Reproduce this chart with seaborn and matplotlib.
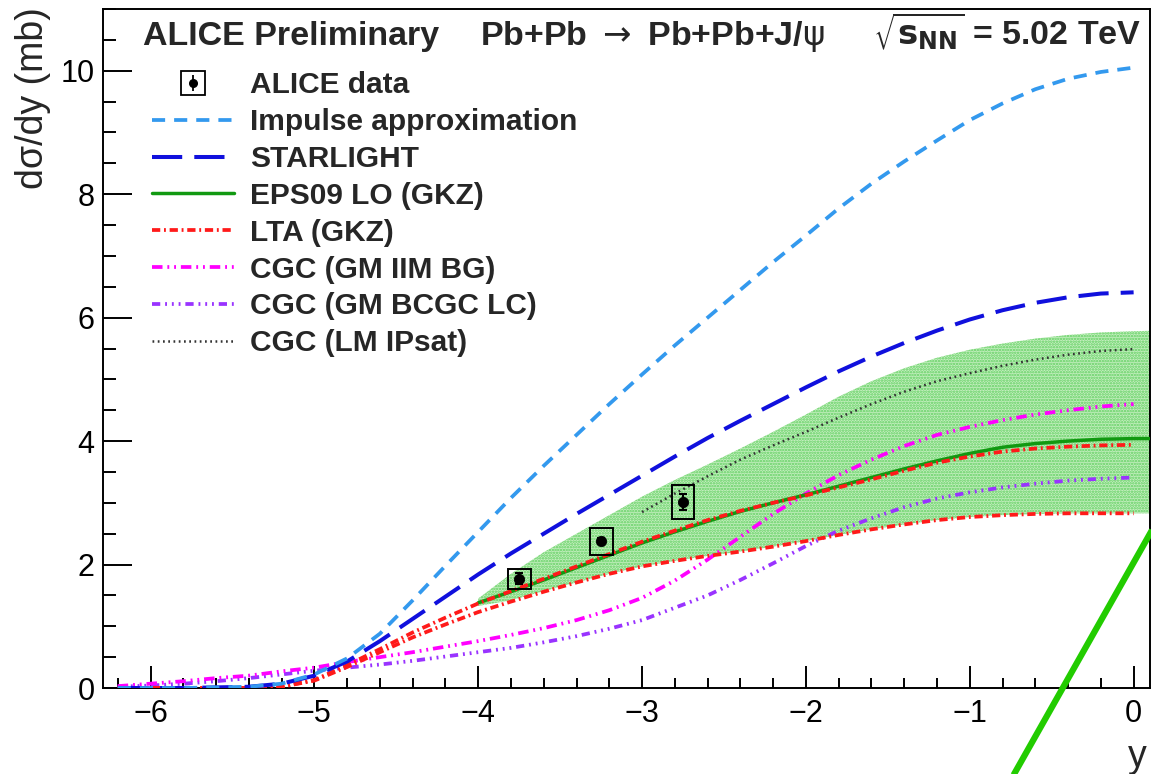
import numpy as np
import pandas as pd
import matplotlib
matplotlib.use("Agg")
import matplotlib.pyplot as plt
from matplotlib.lines import Line2D
from matplotlib.patches import Rectangle
from matplotlib.legend_handler import HandlerTuple
import seaborn as sns

# ---------------------------------------------------------------- data
# rapidity grid of the model calculations
y_grid = [-6.2, -6.0, -5.8, -5.6, -5.4, -5.2, -5.0, -4.8, -4.6, -4.4, -4.2,
          -4.0, -3.8, -3.6, -3.4, -3.2, -3.0, -2.8, -2.6, -2.4, -2.2,
          -2.0, -1.8, -1.6, -1.4, -1.2, -1.0, -0.8, -0.6, -0.4, -0.2, 0.0]

impulse = [0.0, 0.0, 0.0, 0.01, 0.02, 0.07, 0.22, 0.48, 0.88, 1.42, 1.98,
           2.53, 3.08, 3.60, 4.10, 4.60, 5.08, 5.55, 6.00, 6.45, 6.90,
           7.33, 7.77, 8.17, 8.53, 8.87, 9.20, 9.47, 9.70, 9.87, 9.98, 10.05]

starlight = [0.0, 0.0, 0.0, 0.01, 0.02, 0.07, 0.20, 0.43, 0.76, 1.12, 1.48,
             1.84, 2.18, 2.50, 2.82, 3.13, 3.44, 3.75, 4.05, 4.33, 4.60,
             4.87, 5.13, 5.37, 5.59, 5.79, 5.97, 6.12, 6.24, 6.33, 6.39, 6.41]

lta_high = [0.0, 0.0, 0.0, 0.0, 0.0, 0.02, 0.13, 0.37, 0.63, 0.90, 1.14,
            1.37, 1.57, 1.77, 1.97, 2.17, 2.37, 2.55, 2.72, 2.87, 3.00,
            3.12, 3.25, 3.38, 3.52, 3.65, 3.75, 3.83, 3.88, 3.91, 3.93, 3.94]

lta_low = [0.0, 0.0, 0.0, 0.0, 0.0, 0.02, 0.12, 0.34, 0.58, 0.82, 1.03,
           1.23, 1.40, 1.56, 1.71, 1.85, 1.97, 2.06, 2.14, 2.21, 2.29,
           2.38, 2.48, 2.57, 2.65, 2.72, 2.77, 2.80, 2.82, 2.83, 2.83, 2.83]

cgc_iim = [0.03, 0.07, 0.11, 0.16, 0.20, 0.27, 0.33, 0.42, 0.50, 0.58, 0.67,
           0.76, 0.86, 0.97, 1.10, 1.26, 1.46, 1.74, 2.08, 2.45, 2.82,
           3.15, 3.45, 3.70, 3.92, 4.10, 4.23, 4.34, 4.43, 4.50, 4.56, 4.60]

cgc_bcgc = [0.02, 0.04, 0.07, 0.11, 0.16, 0.22, 0.28, 0.33, 0.38, 0.44, 0.51,
            0.58, 0.65, 0.74, 0.84, 0.96, 1.10, 1.30, 1.50, 1.75, 2.02,
            2.30, 2.55, 2.75, 2.93, 3.07, 3.17, 3.25, 3.31, 3.36, 3.39, 3.41]

# EPS09 LO central value and uncertainty band
eps_y = [-4.0, -3.8, -3.6, -3.4, -3.2, -3.0, -2.8, -2.6, -2.4, -2.2, -2.0,
         -1.8, -1.6, -1.4, -1.2, -1.0, -0.8, -0.6, -0.4, -0.2, 0.0, 0.15]
eps_central = [1.38, 1.56, 1.75, 1.95, 2.15, 2.35, 2.53, 2.70, 2.86, 3.00, 3.13,
               3.27, 3.41, 3.55, 3.68, 3.80, 3.90, 3.96, 4.00, 4.03, 4.04, 4.04]
eps_high = [1.45, 1.85, 2.20, 2.50, 2.80, 3.10, 3.37, 3.62, 3.88, 4.15, 4.43,
            4.72, 4.97, 5.18, 5.35, 5.48, 5.58, 5.66, 5.72, 5.76, 5.78, 5.79]
eps_low = [1.33, 1.42, 1.57, 1.71, 1.85, 1.97, 2.06, 2.14, 2.21, 2.29, 2.38,
           2.48, 2.57, 2.65, 2.72, 2.77, 2.80, 2.82, 2.83, 2.83, 2.83, 2.83]

# CGC (LM IPsat)
ipsat_y = [-3.0, -2.8, -2.6, -2.4, -2.2, -2.0, -1.8, -1.6, -1.4, -1.2,
           -1.0, -0.8, -0.6, -0.4, -0.2, 0.0]
ipsat = [2.85, 3.15, 3.43, 3.70, 3.93, 4.15, 4.38, 4.60, 4.80, 4.97,
         5.10, 5.22, 5.32, 5.40, 5.46, 5.49]

# ALICE measurement
data_y = [-3.75, -3.25, -2.75]
data_val = [1.77, 2.38, 3.01]
data_stat = [0.09, 0.05, 0.13]
data_syst = [0.16, 0.22, 0.28]

# ---------------------------------------------------------------- style
sns.set_style("white")
plt.rcParams["font.family"] = ["Liberation Sans", "DejaVu Sans"]
plt.rcParams["mathtext.fontset"] = "dejavusans"
plt.rcParams["hatch.linewidth"] = 1.2
plt.rcParams["axes.unicode_minus"] = True

fig = plt.figure(figsize=(11.51, 7.74), dpi=100)
ax = fig.add_axes([103 / 1151, 86 / 774, 1047 / 1151, 679 / 774])

# uncertainty band of EPS09
ax.fill_between(eps_y, eps_low, eps_high, facecolor="#c4efbf",
                edgecolor="#5fcf5f", hatch="......", linewidth=0, zorder=1)

curves = pd.DataFrame({
    "y": y_grid,
    "Impulse approximation": impulse,
    "STARLIGHT": starlight,
    "LTA high": lta_high,
    "LTA low": lta_low,
    "CGC (GM IIM BG)": cgc_iim,
    "CGC (GM BCGC LC)": cgc_bcgc,
})

styles = {
    "Impulse approximation": dict(color="#3399ee", lw=2.7, ls=(0, (3.5, 2.4))),
    "STARLIGHT": dict(color="#1010dd", lw=2.9, ls=(0, (7.5, 3.0))),
    "LTA (GKZ)": dict(color="#ff1a1a", lw=2.7, ls=(0, (2.2, 1.0, 0.5, 1.0))),
    "CGC (GM IIM BG)": dict(color="#ff00ff", lw=2.7,
                            ls=(0, (2.8, 1.3, 0.5, 1.3, 0.5, 1.3))),
    "CGC (GM BCGC LC)": dict(color="#9933ff", lw=2.7,
                             ls=(0, (2.2, 1.3, 0.5, 1.3, 0.5, 1.3, 0.5, 1.3))),
    "EPS09 LO (GKZ)": dict(color="#119911", lw=2.5, ls="-"),
    "CGC (LM IPsat)": dict(color="#333333", lw=1.8, ls=(0, (0.7, 1.4))),
}

def draw(x, y, key, z=3):
    st = styles[key]
    sns.lineplot(x=x, y=y, ax=ax, color=st["color"], linewidth=st["lw"],
                 linestyle=st["ls"], legend=False, sort=False,
                 estimator=None, zorder=z)

draw(curves["y"], curves["CGC (GM BCGC LC)"], "CGC (GM BCGC LC)")
draw(curves["y"], curves["CGC (GM IIM BG)"], "CGC (GM IIM BG)")
draw(ipsat_y, ipsat, "CGC (LM IPsat)")
draw(curves["y"], curves["LTA low"], "LTA (GKZ)")
draw(eps_y, eps_central, "EPS09 LO (GKZ)")
draw(curves["y"], curves["LTA high"], "LTA (GKZ)")
draw(curves["y"], curves["STARLIGHT"], "STARLIGHT")
draw(curves["y"], curves["Impulse approximation"], "Impulse approximation")

# measured points: systematic boxes, statistical bars, markers
box_half_width = 0.07
for yy, v, s in zip(data_y, data_val, data_syst):
    ax.add_patch(Rectangle((yy - box_half_width, v - s), 2 * box_half_width,
                           2 * s, fill=False, edgecolor="black", lw=1.4,
                           zorder=6))
ax.errorbar(data_y, data_val, yerr=data_stat, fmt="none", ecolor="black",
            elinewidth=1.5, capsize=3, capthick=1.5, zorder=7)
sns.scatterplot(x=data_y, y=data_val, color="black", s=55, edgecolor="black",
                ax=ax, zorder=8, legend=False)

# ---------------------------------------------------------------- axes
ax.set_xlim(-6.29, 0.1)
ax.set_ylim(0, 11)
ax.set_xticks([-6, -5, -4, -3, -2, -1, 0])
ax.set_xticks(np.arange(-6.2, 0.05, 0.2), minor=True)
ax.set_yticks([0, 2, 4, 6, 8, 10])
ax.set_yticks(np.arange(0, 11.01, 0.5), minor=True)
ax.tick_params(axis="both", which="both", direction="in", width=1.4,
               labelsize=22, colors="black", bottom=True, left=True,
               top=False, right=False)
ax.tick_params(axis="x", which="major", length=15.5, pad=8)
ax.tick_params(axis="x", which="minor", length=7.5)
ax.tick_params(axis="y", which="major", length=21, pad=6)
ax.tick_params(axis="y", which="minor", length=9.5)
for sp in ax.spines.values():
    sp.set_linewidth(1.4)
    sp.set_color("black")

ax.set_ylabel("dσ/dy (mb)", fontsize=27, loc="top")
ax.yaxis.set_label_coords(-0.050, 1.003)
ax.set_xlabel("y", fontsize=27, loc="right")
ax.xaxis.set_label_coords(0.997, -0.075)

# header
head = dict(transform=ax.transAxes, fontsize=24.5, weight="bold",
            va="baseline")
ax.text(0.038, 0.947, "ALICE Preliminary", ha="left", **head)
ax.text(0.360, 0.947, r"Pb+Pb $\rightarrow$ Pb+Pb+J/$\mathrm{\psi}$",
        ha="left", **head)
ax.text(0.9914, 0.947, r"$\sqrt{\mathbf{s}_{\mathbf{NN}}}$ = 5.02 TeV",
        ha="right", **head)

# legend
def proxy(key):
    st = styles[key]
    return Line2D([], [], color=st["color"], lw=st["lw"], ls=st["ls"])

data_handle = (Line2D([], [], marker="s", ms=17, mfc="none", mec="black",
                      mew=1.3, ls=""),
               Line2D([], [], marker="|", ms=11, mew=1.3, color="black",
                      ls=""),
               Line2D([], [], marker="o", ms=5.5, color="black", ls=""))
handles = [data_handle, proxy("Impulse approximation"), proxy("STARLIGHT"),
           proxy("EPS09 LO (GKZ)"), proxy("LTA (GKZ)"),
           proxy("CGC (GM IIM BG)"), proxy("CGC (GM BCGC LC)"),
           proxy("CGC (LM IPsat)")]
labels = ["ALICE data", "Impulse approximation", "STARLIGHT",
          "EPS09 LO (GKZ)", "LTA (GKZ)", "CGC (GM IIM BG)",
          "CGC (GM BCGC LC)", "CGC (LM IPsat)"]
ax.legend(handles, labels, loc="upper left", bbox_to_anchor=(0.0468, 0.9080),
          frameon=False, borderpad=0, borderaxespad=0, handlelength=2.74,
          handletextpad=0.54, labelspacing=0.295,
          prop={"size": 21.5, "weight": "bold"},
          handler_map={tuple: HandlerTuple(ndivide=1)})

# green stroke across the lower right corner
fig.add_artist(Line2D([0.875, 1.005], [-0.016, 0.326],
                      transform=fig.transFigure, color="#22cc00", lw=4.5,
                      solid_capstyle="butt", zorder=20))

fig.savefig("out.png", dpi=100)
